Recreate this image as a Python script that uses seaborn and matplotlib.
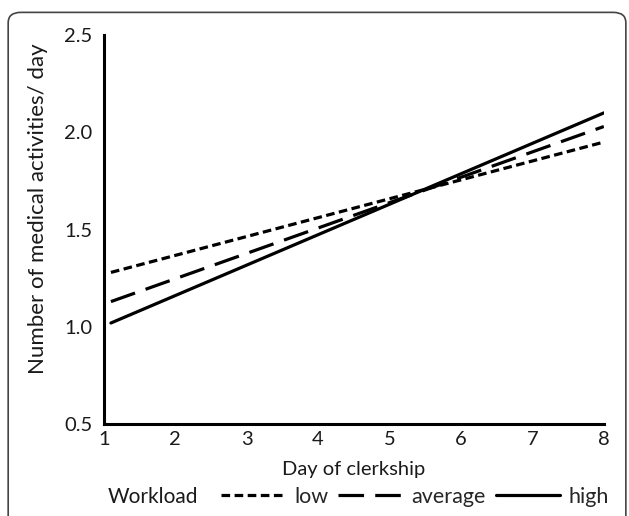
import matplotlib
matplotlib.use("Agg")
import matplotlib.pyplot as plt
import seaborn as sns
import pandas as pd
from matplotlib.patches import FancyBboxPatch
from matplotlib.lines import Line2D

days = [1.1, 8.0]
low = [1.28, 1.95]
average = [1.13, 2.03]
high = [1.02, 2.10]
workloads = ["low", "average", "high"]
x_ticks = [1, 2, 3, 4, 5, 6, 7, 8]
y_ticks = [0.5, 1.0, 1.5, 2.0, 2.5]

rows = []
for name, vals in zip(workloads, [low, average, high]):
    for d, v in zip(days, vals):
        rows.append({"day": d, "value": v, "Workload": name})
df = pd.DataFrame(rows)

sns.set_style("white")
plt.rcParams['font.family'] = ['Lato', 'DejaVu Sans']

fig = plt.figure(figsize=(6.29, 5.16), dpi=100)
ax = fig.add_axes([0.165, 0.178, 0.795, 0.754])

dash_map = {"low": (2.7, 1.4), "average": (8, 3.5), "high": ""}
sns.lineplot(data=df, x="day", y="value", style="Workload", style_order=workloads,
             dashes=dash_map, color="black", linewidth=2.3, ax=ax, legend=False)

fs = 14.5
ax.set_xlim(1, 8)
ax.set_ylim(0.5, 2.5)
ax.set_xticks(x_ticks)
ax.set_xticklabels([str(t) for t in x_ticks])
ax.set_yticks(y_ticks)
ax.set_yticklabels([f"{t:.1f}" for t in y_ticks])
ax.tick_params(axis='both', length=0, labelsize=fs, colors='#1a1a1a')
ax.tick_params(axis='x', pad=5)
ax.tick_params(axis='y', pad=8)
for s in ["top", "right"]:
    ax.spines[s].set_visible(False)
for s in ["left", "bottom"]:
    ax.spines[s].set_color("black")
    ax.spines[s].set_linewidth(2.2)
ax.set_xlabel("Day of clerkship", fontsize=fs, labelpad=9, color='#1a1a1a')
ax.set_ylabel("Number of medical activities/ day", fontsize=16, color='#1a1a1a')
ax.yaxis.set_label_coords(-0.112, 0.555)

# Legend
handles = []
for w in workloads:
    h = Line2D([], [], color="black", lw=2.3)
    if dash_map[w]:
        h.set_linestyle((0, dash_map[w]))
    handles.append(h)
fig.text(0.171, 0.037, "Workload", fontsize=15, color='#1a1a1a', va='center')
fig.legend(handles, workloads, loc='center left', bbox_to_anchor=(0.352, 0.037), ncol=3,
           frameon=False, fontsize=15.5, handlelength=3.0, handletextpad=0.4,
           columnspacing=0.45, borderpad=0, borderaxespad=0)

# Card border
border = FancyBboxPatch((0.013, -0.05), 0.982, 1.026, boxstyle="round,pad=0,rounding_size=0.02",
                        transform=fig.transFigure, fill=False, edgecolor="#444444", linewidth=1.2)
fig.patches.append(border)

fig.savefig("out.png", dpi=100)
